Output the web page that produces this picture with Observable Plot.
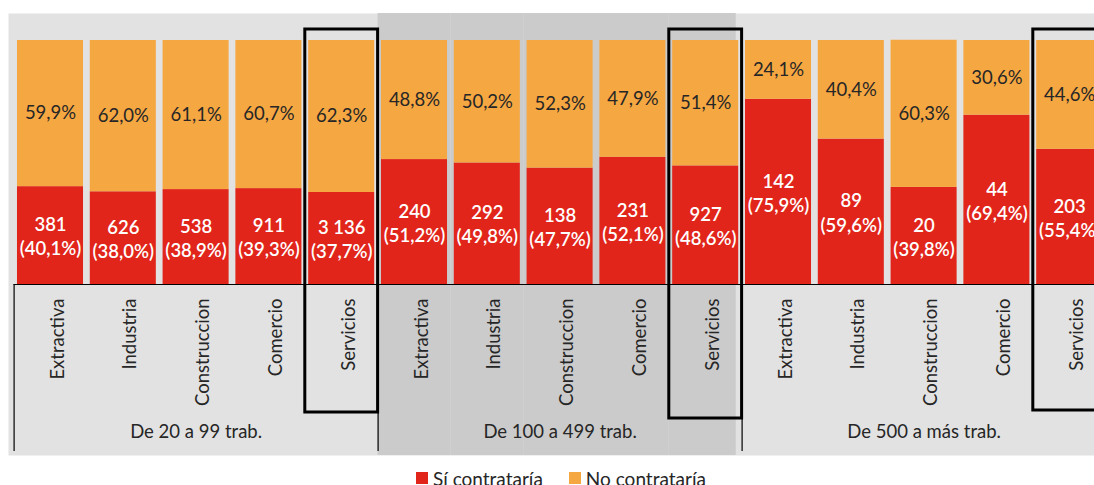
<!DOCTYPE html>
<html><head><meta charset="utf-8">
<script src="https://cdn.jsdelivr.net/npm/d3@7"></script>
<script src="https://cdn.jsdelivr.net/npm/@observablehq/plot@0.6"></script>
<style>
html,body{margin:0;padding:0;background:#fff;overflow:hidden;}
#chart svg{display:block;overflow:hidden;}
.legend{display:flex;align-items:center;height:22px;margin-top:5px;margin-left:416px;font-family:Lato,sans-serif;font-size:19px;color:#262626;}
.legend .sw{width:12px;height:12px;margin-right:5px;}
.legend .item{display:flex;align-items:center;margin-right:26px;}
</style></head><body>
<div id="chart"></div>
<div class="legend" id="legend"></div>
<script>
// ---- data ----
const groups = ["De 20 a 99 trab.", "De 100 a 499 trab.", "De 500 a más trab."];
const sectors = ["Extractiva", "Industria", "Construccion", "Comercio", "Servicios"];
const siCount = [[381, 626, 538, 911, 3136], [240, 292, 138, 231, 927], [142, 89, 20, 44, 203]];
const siPct = [[40.1, 38.0, 38.9, 39.3, 37.7], [51.2, 49.8, 47.7, 52.1, 48.6], [75.9, 59.6, 39.8, 69.4, 55.4]];
const noPct = [[59.9, 62.0, 61.1, 60.7, 62.3], [48.8, 50.2, 52.3, 47.9, 51.4], [24.1, 40.4, 60.3, 30.6, 44.6]];
const seriesNames = ["Sí contrataría", "No contrataría"];
const seriesColors = ["#E1251B", "#F5A742"];
const highlight = "Servicios";

// ---- table ----
const rows = [];
groups.forEach((g, gi) => sectors.forEach((s, si) => {
  rows.push({key: g + "|" + s, group: g, gi, sector: s, count: siCount[gi][si], si: siPct[gi][si], no: noPct[gi][si]});
}));
const groupLabels = groups.map((g) => ({key: g + "|" + sectors[2], text: g}));
const groupStarts = groups.map((g) => g + "|" + sectors[0]);

const loc = d3.formatLocale({decimal: ",", thousands: " ", grouping: [3], currency: ["", ""]});
const fmtInt = loc.format(",d");
const fmtPct = loc.format(".1f");

const W = 1094, H = 462;
const xRange = [13.6, 1105.6];
const padIn = 0.093;
const step = (xRange[1] - xRange[0]) / rows.length;
const ext = -step * padIn / 2;
const font = "Lato, sans-serif";
const txt = "#262626";
const boxBottomInset = [43, 37, 45];

const chart = Plot.plot({
  width: W, height: H,
  marginTop: 13, marginBottom: 7, marginLeft: 8, marginRight: 0,
  style: {fontFamily: font, background: "white", overflow: "hidden"},
  x: {domain: rows.map((d) => d.key), range: xRange, paddingInner: padIn, paddingOuter: padIn / 2, round: false, axis: null},
  y: {domain: [0, 100], range: [284, 40], axis: null},
  marks: [
    Plot.frame({fill: "#E2E2E2", stroke: "none"}),
    Plot.cell(rows.filter((d) => d.gi === 1 && d.sector !== highlight), {x: "key", fill: "#CBCBCB", insetLeft: ext, insetRight: ext}),
    Plot.cell(rows.filter((d) => d.gi === 1 && d.sector === highlight), {x: "key", fill: "#CBCBCB", insetLeft: ext, insetRight: 2.5}),
    Plot.barY(rows, {x: "key", y1: 0, y2: "si", fill: seriesColors[0]}),
    Plot.barY(rows, {x: "key", y1: "si", y2: (d) => d.si + d.no, fill: seriesColors[1]}),
    Plot.ruleY([0], {stroke: "#000", strokeWidth: 1.2, insetLeft: 5.6}),
    Plot.ruleX(groupStarts, {x: (d) => d, dx: -step / 2, stroke: "#000", strokeWidth: 1.2, insetTop: 271, insetBottom: 4}),
    ...groups.map((g, gi) => Plot.cell(rows.filter((d) => d.gi === gi && d.sector === highlight), {x: "key", fill: "none", stroke: "#000", strokeWidth: 3, insetLeft: ext, insetRight: ext, insetTop: 16, insetBottom: boxBottomInset[gi]})),
    Plot.text(rows, {x: "key", y: (d) => d.si + d.no / 2, text: (d) => fmtPct(d.no) + "%", fill: txt, fontSize: 18.5}),
    Plot.text(rows, {x: "key", y: (d) => d.si / 2, text: (d) => fmtInt(d.count) + "\n(" + fmtPct(d.si) + "%)", fill: "white", fontSize: 18.5, fontWeight: 600, lineHeight: 1.3}),
    Plot.text(rows, {x: "key", text: "sector", rotate: -90, textAnchor: "end", frameAnchor: "top", dy: 285, fill: txt, fontSize: 18.5}),
    Plot.text(groupLabels, {x: "key", text: "text", frameAnchor: "bottom", dy: -18, fill: txt, fontSize: 18.5})
  ]
});
document.getElementById("chart").appendChild(chart);

const leg = document.getElementById("legend");
seriesNames.forEach((n, i) => {
  const it = document.createElement("div");
  it.className = "item";
  const sw = document.createElement("span");
  sw.className = "sw";
  sw.style.background = seriesColors[i];
  const t = document.createElement("span");
  t.textContent = n;
  it.appendChild(sw); it.appendChild(t);
  leg.appendChild(it);
});
</script>
</body></html>
